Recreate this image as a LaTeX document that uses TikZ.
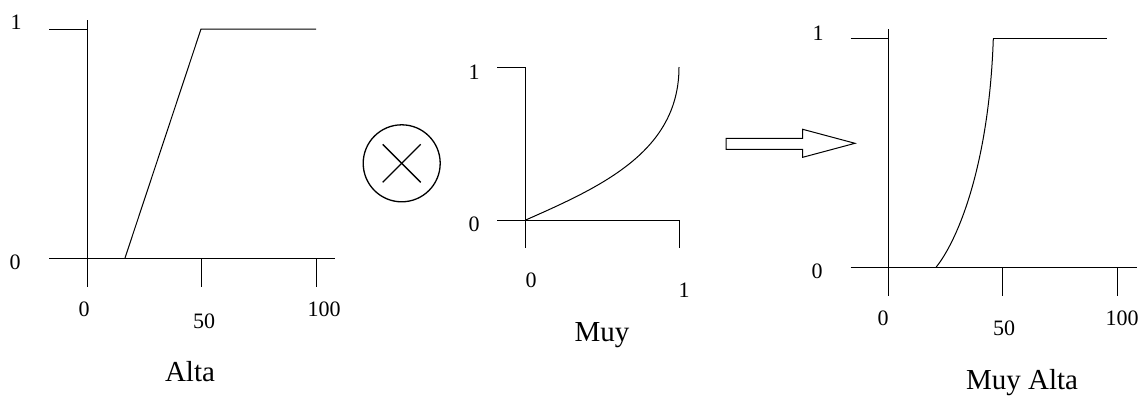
\documentclass[tikz,border=0pt]{standalone}
\usepackage{fontspec}
\setmainfont{Liberation Serif}
\begin{document}
\begin{tikzpicture}[x=1pt,y=-1pt,
  ln/.style={line width=1pt},
  num/.style={font=\fontsize{22}{24}\selectfont,inner sep=0pt},
  word/.style={font=\fontsize{29}{31}\selectfont,inner sep=0pt}]
\useasboundingbox (0,0) rectangle (1145,397);
% ---------- left plot: Alta ----------
\coordinate (Ly0) at (87,20);
\coordinate (Ly1) at (87,287);
\coordinate (Lx0) at (49,258);
\coordinate (Lx1) at (335,258);
\coordinate (Ls0) at (49,29);
\coordinate (Ls1) at (87,29);
\coordinate (Lr0) at (125,258);
\coordinate (Lr1) at (201,29);
\coordinate (Lr2) at (316,29);
\coordinate (Lt50a) at (201,258);
\coordinate (Lt50b) at (201,287);
\coordinate (Lt100a) at (316,258);
\coordinate (Lt100b) at (316,287);
\draw[ln] (Ly0) -- (Ly1);
\draw[ln] (Lx0) -- (Lx1);
\draw[ln] (Ls0) -- (Ls1);
\draw[ln] (Lr0) -- (Lr1) -- (Lr2);
\draw[ln] (Lt50a) -- (Lt50b);
\draw[ln] (Lt100a) -- (Lt100b);
\node[num] (L1) at (16,22) {1};
\node[num] (L0) at (15,262) {0};
\node[num] (Lx0l) at (84,309) {0};
\node[num] (Lx50l) at (204,321) {50};
\node[num] (Lx100l) at (324,309) {100};
\node[word] (alta) at (190,372) {Alta};
% ---------- operator ----------
\node[draw,circle,line width=1.3pt,minimum size=77pt,inner sep=0pt] (op) at (401.7,163.3) {};
\draw[line width=1.3pt] ([shift={(-19,-19)}]op.center) -- ([shift={(19,19)}]op.center);
\draw[line width=1.3pt] ([shift={(-19,19)}]op.center) -- ([shift={(19,-19)}]op.center);
% ---------- middle plot: Muy ----------
\coordinate (My0) at (525.7,67);
\coordinate (My1) at (525.7,248);
\coordinate (Mx0) at (497,220);
\coordinate (Mx1) at (679,220);
\coordinate (Mt1) at (679,248);
\coordinate (Ms0) at (497,67);
\coordinate (Mo) at (525.7,220);
\coordinate (Mend) at (679,67);
\draw[ln] (My0) -- (My1);
\draw[ln] (Mx0) -- (Mx1) -- (Mt1);
\draw[ln] (Ms0) -- (My0);
\draw[line width=1pt] (Mo) .. controls (602.2,186.3) and (679,151.2) .. (Mend);
\node[num] (M1) at (474,72) {1};
\node[num] (M0) at (474,224) {0};
\node[num] (Mx0l) at (531,280) {0};
\node[num] (Mx1l) at (684,290) {1};
\node[word] (muy) at (602,335) {Muy};
% ---------- arrow ----------
\coordinate (A0) at (726,138.3);
\coordinate (A1) at (802.7,138.3);
\coordinate (A2) at (802.7,129.3);
\coordinate (A3) at (855,143.3);
\coordinate (A4) at (802.7,157.3);
\coordinate (A5) at (802.7,149.3);
\coordinate (A6) at (726,149.3);
\draw[line width=1pt] (A0) -- (A1) -- (A2) -- (A3) -- (A4) -- (A5) -- (A6) -- cycle;
% ---------- right plot: Muy Alta ----------
\coordinate (Ry0) at (888.7,29);
\coordinate (Ry1) at (888.7,296);
\coordinate (Rx0) at (850.7,267.3);
\coordinate (Rx1) at (1136.7,267.3);
\coordinate (Rs0) at (850.7,38.7);
\coordinate (Rs1) at (888.7,38.7);
\coordinate (Rc0) at (936,267.3);
\coordinate (Rc1) at (993.3,38.7);
\coordinate (Rc2) at (1107.3,38.7);
\coordinate (Rt50a) at (1002.7,267.3);
\coordinate (Rt50b) at (1002.7,296);
\coordinate (Rt100a) at (1117.3,267.3);
\coordinate (Rt100b) at (1117.3,296);
\draw[ln] (Ry0) -- (Ry1);
\draw[ln] (Rx0) -- (Rx1);
\draw[ln] (Rs0) -- (Rs1);
\draw[line width=1pt] (Rc0) .. controls (958,240) and (989,165) .. (Rc1);
\draw[ln] (Rc1) -- (Rc2);
\draw[ln] (Rt50a) -- (Rt50b);
\draw[ln] (Rt100a) -- (Rt100b);
\node[num] (R1) at (818,33) {1};
\node[num] (R0) at (817,271) {0};
\node[num] (Rx0l) at (883,318) {0};
\node[num] (Rx50l) at (1004,328) {50};
\node[num] (Rx100l) at (1122,318) {100};
\node[word] (muyalta) at (1022,383) {Muy Alta};
\end{tikzpicture}
\end{document}
